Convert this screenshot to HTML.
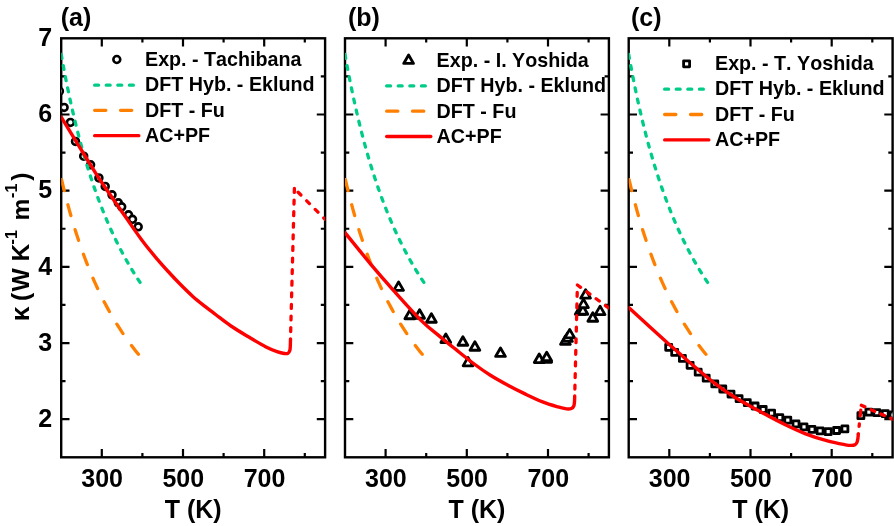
<!DOCTYPE html><html><head><meta charset="utf-8"><title>kappa</title>
<style>html,body{margin:0;padding:0;background:#fff}svg{display:block;will-change:transform}text{font-kerning:none}</style></head><body>
<svg width="894" height="526" viewBox="0 0 894 526">
<rect width="894" height="526" fill="#fff"/>
<defs>
<clipPath id="cp0"><rect x="61.20" y="38.30" width="263.90" height="419.00"/></clipPath>
<clipPath id="cp1"><rect x="345.00" y="38.30" width="263.90" height="419.00"/></clipPath>
<clipPath id="cp2"><rect x="628.70" y="38.30" width="263.90" height="419.00"/></clipPath>
</defs>
<rect x="61.20" y="38.30" width="263.90" height="419.00" fill="none" stroke="#000" stroke-width="2.4"/>
<path d="M101.80 38.30 v8.30 M101.80 457.30 v-8.30 M142.40 38.30 v4.30 M142.40 457.30 v-4.30 M183.00 38.30 v8.30 M183.00 457.30 v-8.30 M223.60 38.30 v4.30 M223.60 457.30 v-4.30 M264.20 38.30 v8.30 M264.20 457.30 v-8.30 M304.80 38.30 v4.30 M304.80 457.30 v-4.30 M61.20 419.21 h8.30 M325.10 419.21 h-8.30 M61.20 381.12 h4.30 M325.10 381.12 h-4.30 M61.20 343.03 h8.30 M325.10 343.03 h-8.30 M61.20 304.94 h4.30 M325.10 304.94 h-4.30 M61.20 266.85 h8.30 M325.10 266.85 h-8.30 M61.20 228.75 h4.30 M325.10 228.75 h-4.30 M61.20 190.66 h8.30 M325.10 190.66 h-8.30 M61.20 152.57 h4.30 M325.10 152.57 h-4.30 M61.20 114.48 h8.30 M325.10 114.48 h-8.30 M61.20 76.39 h4.30 M325.10 76.39 h-4.30" fill="none" stroke="#000" stroke-width="2.2"/>
<g clip-path="url(#cp0)">
<circle cx="59.40" cy="91.20" r="3.45" fill="#fff" stroke="#000" stroke-width="2.6"/>
<circle cx="64.10" cy="107.40" r="3.45" fill="#fff" stroke="#000" stroke-width="2.6"/>
<circle cx="70.40" cy="122.40" r="3.45" fill="#fff" stroke="#000" stroke-width="2.6"/>
<circle cx="75.50" cy="141.40" r="3.45" fill="#fff" stroke="#000" stroke-width="2.6"/>
<circle cx="83.70" cy="156.20" r="3.45" fill="#fff" stroke="#000" stroke-width="2.6"/>
<circle cx="90.60" cy="164.80" r="3.45" fill="#fff" stroke="#000" stroke-width="2.6"/>
<circle cx="98.90" cy="177.90" r="3.45" fill="#fff" stroke="#000" stroke-width="2.6"/>
<circle cx="105.20" cy="186.40" r="3.45" fill="#fff" stroke="#000" stroke-width="2.6"/>
<circle cx="112.00" cy="194.80" r="3.45" fill="#fff" stroke="#000" stroke-width="2.6"/>
<circle cx="118.30" cy="202.80" r="3.45" fill="#fff" stroke="#000" stroke-width="2.6"/>
<circle cx="121.70" cy="206.80" r="3.45" fill="#fff" stroke="#000" stroke-width="2.6"/>
<circle cx="128.50" cy="214.80" r="3.45" fill="#fff" stroke="#000" stroke-width="2.6"/>
<circle cx="132.50" cy="219.30" r="3.45" fill="#fff" stroke="#000" stroke-width="2.6"/>
<circle cx="138.20" cy="226.80" r="3.45" fill="#fff" stroke="#000" stroke-width="2.6"/>
<path d="M61.20 54.37 L63.17 65.25 L65.14 75.62 L67.11 85.53 L69.08 95.01 L71.06 104.08 L73.03 112.77 L75.00 121.10 L76.97 129.10 L78.94 136.78 L80.91 144.17 L82.88 151.28 L84.85 158.13 L86.82 164.73 L88.80 171.09 L90.77 177.23 L92.74 183.16 L94.71 188.89 L96.68 194.43 L98.65 199.79 L100.62 204.97 L102.59 210.00 L104.56 214.86 L106.54 219.58 L108.51 224.16 L110.48 228.60 L112.45 232.92 L114.42 237.11 L116.39 241.18 L118.36 245.14 L120.33 248.99 L122.31 252.74 L124.28 256.39 L126.25 259.94 L128.22 263.40 L130.19 266.77 L132.16 270.06 L134.13 273.27 L136.10 276.40 L138.07 279.45 L140.05 282.43" fill="none" stroke="#00cc88" stroke-width="3.3" stroke-linecap="round" stroke-dasharray="3.9 7.486"/>
<path d="M61.20 178.09 L63.13 186.23 L65.06 194.01 L66.99 201.46 L68.92 208.62 L70.85 215.48 L72.78 222.07 L74.71 228.41 L76.64 234.51 L78.57 240.38 L80.51 246.04 L82.44 251.50 L84.37 256.77 L86.30 261.86 L88.23 266.77 L90.16 271.52 L92.09 276.12 L94.02 280.57 L95.95 284.88 L97.88 289.06 L99.81 293.11 L101.74 297.04 L103.67 300.85 L105.60 304.55 L107.53 308.14 L109.46 311.64 L111.39 315.04 L113.32 318.34 L115.25 321.56 L117.19 324.68 L119.12 327.73 L121.05 330.70 L122.98 333.59 L124.91 336.41 L126.84 339.16 L128.77 341.85 L130.70 344.46 L132.63 347.02 L134.56 349.51 L136.49 351.95 L138.42 354.33" fill="none" stroke="#ff8000" stroke-width="3.3" stroke-dasharray="11.2 14.7" stroke-linecap="round" stroke-dashoffset="24.28"/>
<path d="M61.20 117.10 C65.58 124.25 81.02 149.52 87.50 160.00 C93.98 170.48 94.57 171.67 100.10 180.00 C105.63 188.33 113.76 200.00 120.70 210.00 C127.64 220.00 135.60 231.73 141.75 240.00 C147.90 248.27 152.89 254.02 157.60 259.60 C162.31 265.18 166.27 269.43 170.00 273.50 C173.73 277.57 176.20 280.18 180.00 284.00 C183.80 287.82 188.63 292.67 192.80 296.40 C196.97 300.13 201.20 303.38 205.00 306.40 C208.80 309.42 211.27 311.23 215.60 314.50 C219.93 317.77 225.53 322.28 231.00 326.00 C236.47 329.72 242.65 333.35 248.40 336.80 C254.15 340.25 260.73 344.23 265.50 346.70 C270.27 349.17 273.87 350.47 277.00 351.60 C280.13 352.73 282.47 353.23 284.30 353.50 C286.13 353.77 287.08 353.70 288.00 353.20 C288.92 352.70 289.42 351.70 289.80 350.50 C290.18 349.30 290.18 347.92 290.30 346.00 C290.42 344.08 290.47 340.17 290.50 339.00" fill="none" stroke="#ff0000" stroke-width="3.4" stroke-linecap="round" stroke-linejoin="round"/>
<path d="M290.50 339.00 L294.40 188.50" fill="none" stroke="#ff0000" stroke-width="3.3" stroke-dasharray="3.9 7.7" stroke-linecap="round" stroke-dashoffset="4.15"/>
<path d="M294.40 188.50 L325.10 219.30" fill="none" stroke="#ff0000" stroke-width="3.3" stroke-linecap="round" stroke-dasharray="3.9 8.2" stroke-dashoffset="6.8"/>
</g>
<text x="102.10" y="487.4" font-size="25" text-anchor="middle" font-family="Liberation Sans, sans-serif" font-weight="bold">300</text>
<text x="183.30" y="487.4" font-size="25" text-anchor="middle" font-family="Liberation Sans, sans-serif" font-weight="bold">500</text>
<text x="264.50" y="487.4" font-size="25" text-anchor="middle" font-family="Liberation Sans, sans-serif" font-weight="bold">700</text>
<text x="193.15" y="518.4" font-size="25" text-anchor="middle" font-family="Liberation Sans, sans-serif" font-weight="bold">T (K)</text>
<text x="60.70" y="26.1" font-size="25" font-family="Liberation Sans, sans-serif" font-weight="bold">(a)</text>
<circle cx="116.80" cy="59.50" r="3.45" fill="#fff" stroke="#000" stroke-width="2.6"/>
<path d="M94.65 85.20 h38.7" fill="none" stroke="#00cc88" stroke-width="3.3" stroke-dasharray="3.9 7.7" stroke-linecap="round"/>
<path d="M94.65 110.30 h37.1" fill="none" stroke="#ff8000" stroke-width="3.3" stroke-dasharray="11.2 14.7" stroke-linecap="round"/>
<path d="M94.65 135.70 h44.2" fill="none" stroke="#ff0000" stroke-width="3.3" stroke-linecap="round"/>
<text x="145.00" y="66.10" font-size="19.7" font-family="Liberation Sans, sans-serif" font-weight="bold">Exp. - Tachibana</text>
<text x="145.00" y="90.70" font-size="19.7" font-family="Liberation Sans, sans-serif" font-weight="bold">DFT Hyb. - Eklund</text>
<text x="145.00" y="116.70" font-size="19.7" font-family="Liberation Sans, sans-serif" font-weight="bold">DFT - Fu</text>
<text x="145.00" y="141.90" font-size="19.7" font-family="Liberation Sans, sans-serif" font-weight="bold">AC+PF</text>
<rect x="345.00" y="38.30" width="263.90" height="419.00" fill="none" stroke="#000" stroke-width="2.4"/>
<path d="M385.60 38.30 v8.30 M385.60 457.30 v-8.30 M426.20 38.30 v4.30 M426.20 457.30 v-4.30 M466.80 38.30 v8.30 M466.80 457.30 v-8.30 M507.40 38.30 v4.30 M507.40 457.30 v-4.30 M548.00 38.30 v8.30 M548.00 457.30 v-8.30 M588.60 38.30 v4.30 M588.60 457.30 v-4.30 M345.00 419.21 h8.30 M608.90 419.21 h-8.30 M345.00 381.12 h4.30 M608.90 381.12 h-4.30 M345.00 343.03 h8.30 M608.90 343.03 h-8.30 M345.00 304.94 h4.30 M608.90 304.94 h-4.30 M345.00 266.85 h8.30 M608.90 266.85 h-8.30 M345.00 228.75 h4.30 M608.90 228.75 h-4.30 M345.00 190.66 h8.30 M608.90 190.66 h-8.30 M345.00 152.57 h4.30 M608.90 152.57 h-4.30 M345.00 114.48 h8.30 M608.90 114.48 h-8.30 M345.00 76.39 h4.30 M608.90 76.39 h-4.30" fill="none" stroke="#000" stroke-width="2.2"/>
<g clip-path="url(#cp1)">
<path d="M398.60 281.85 L403.50 290.35 L393.70 290.35 Z" fill="#fff" stroke="#000" stroke-width="2.8" stroke-linejoin="round"/>
<path d="M409.80 310.25 L414.70 318.75 L404.90 318.75 Z" fill="#fff" stroke="#000" stroke-width="2.8" stroke-linejoin="round"/>
<path d="M419.60 309.75 L424.50 318.25 L414.70 318.25 Z" fill="#fff" stroke="#000" stroke-width="2.8" stroke-linejoin="round"/>
<path d="M431.40 313.75 L436.30 322.25 L426.50 322.25 Z" fill="#fff" stroke="#000" stroke-width="2.8" stroke-linejoin="round"/>
<path d="M445.80 334.05 L450.70 342.55 L440.90 342.55 Z" fill="#fff" stroke="#000" stroke-width="2.8" stroke-linejoin="round"/>
<path d="M462.90 336.75 L467.80 345.25 L458.00 345.25 Z" fill="#fff" stroke="#000" stroke-width="2.8" stroke-linejoin="round"/>
<path d="M474.90 341.75 L479.80 350.25 L470.00 350.25 Z" fill="#fff" stroke="#000" stroke-width="2.8" stroke-linejoin="round"/>
<path d="M468.00 357.35 L472.90 365.85 L463.10 365.85 Z" fill="#fff" stroke="#000" stroke-width="2.8" stroke-linejoin="round"/>
<path d="M500.50 347.95 L505.40 356.45 L495.60 356.45 Z" fill="#fff" stroke="#000" stroke-width="2.8" stroke-linejoin="round"/>
<path d="M539.20 354.05 L544.10 362.55 L534.30 362.55 Z" fill="#fff" stroke="#000" stroke-width="2.8" stroke-linejoin="round"/>
<path d="M546.70 353.75 L551.60 362.25 L541.80 362.25 Z" fill="#fff" stroke="#000" stroke-width="2.8" stroke-linejoin="round"/>
<path d="M546.70 352.25 L551.60 360.75 L541.80 360.75 Z" fill="#fff" stroke="#000" stroke-width="2.8" stroke-linejoin="round"/>
<path d="M565.40 335.85 L570.30 344.35 L560.50 344.35 Z" fill="#fff" stroke="#000" stroke-width="2.8" stroke-linejoin="round"/>
<path d="M567.50 332.95 L572.40 341.45 L562.60 341.45 Z" fill="#fff" stroke="#000" stroke-width="2.8" stroke-linejoin="round"/>
<path d="M569.70 329.35 L574.60 337.85 L564.80 337.85 Z" fill="#fff" stroke="#000" stroke-width="2.8" stroke-linejoin="round"/>
<path d="M580.10 305.85 L585.00 314.35 L575.20 314.35 Z" fill="#fff" stroke="#000" stroke-width="2.8" stroke-linejoin="round"/>
<path d="M582.90 305.75 L587.80 314.25 L578.00 314.25 Z" fill="#fff" stroke="#000" stroke-width="2.8" stroke-linejoin="round"/>
<path d="M583.50 299.15 L588.40 307.65 L578.60 307.65 Z" fill="#fff" stroke="#000" stroke-width="2.8" stroke-linejoin="round"/>
<path d="M585.60 289.65 L590.50 298.15 L580.70 298.15 Z" fill="#fff" stroke="#000" stroke-width="2.8" stroke-linejoin="round"/>
<path d="M592.80 312.75 L597.70 321.25 L587.90 321.25 Z" fill="#fff" stroke="#000" stroke-width="2.8" stroke-linejoin="round"/>
<path d="M600.10 306.15 L605.00 314.65 L595.20 314.65 Z" fill="#fff" stroke="#000" stroke-width="2.8" stroke-linejoin="round"/>
<path d="M345.00 54.37 L346.97 65.25 L348.94 75.62 L350.91 85.53 L352.88 95.01 L354.86 104.08 L356.83 112.77 L358.80 121.10 L360.77 129.10 L362.74 136.78 L364.71 144.17 L366.68 151.28 L368.65 158.13 L370.62 164.73 L372.60 171.09 L374.57 177.23 L376.54 183.16 L378.51 188.89 L380.48 194.43 L382.45 199.79 L384.42 204.97 L386.39 210.00 L388.36 214.86 L390.34 219.58 L392.31 224.16 L394.28 228.60 L396.25 232.92 L398.22 237.11 L400.19 241.18 L402.16 245.14 L404.13 248.99 L406.11 252.74 L408.08 256.39 L410.05 259.94 L412.02 263.40 L413.99 266.77 L415.96 270.06 L417.93 273.27 L419.90 276.40 L421.87 279.45 L423.85 282.43" fill="none" stroke="#00cc88" stroke-width="3.3" stroke-linecap="round" stroke-dasharray="3.9 7.486"/>
<path d="M345.00 178.09 L346.93 186.23 L348.86 194.01 L350.79 201.46 L352.72 208.62 L354.65 215.48 L356.58 222.07 L358.51 228.41 L360.44 234.51 L362.37 240.38 L364.31 246.04 L366.24 251.50 L368.17 256.77 L370.10 261.86 L372.03 266.77 L373.96 271.52 L375.89 276.12 L377.82 280.57 L379.75 284.88 L381.68 289.06 L383.61 293.11 L385.54 297.04 L387.47 300.85 L389.40 304.55 L391.33 308.14 L393.26 311.64 L395.19 315.04 L397.12 318.34 L399.05 321.56 L400.99 324.68 L402.92 327.73 L404.85 330.70 L406.78 333.59 L408.71 336.41 L410.64 339.16 L412.57 341.85 L414.50 344.46 L416.43 347.02 L418.36 349.51 L420.29 351.95 L422.22 354.33" fill="none" stroke="#ff8000" stroke-width="3.3" stroke-dasharray="11.2 14.7" stroke-linecap="round" stroke-dashoffset="24.28"/>
<path d="M345.00 232.70 C349.17 237.80 362.00 253.78 370.00 263.30 C378.00 272.82 384.45 280.25 393.00 289.80 C401.55 299.35 413.47 312.80 421.30 320.60 C429.13 328.40 434.30 331.83 440.00 336.60 C445.70 341.37 449.80 344.63 455.50 349.20 C461.20 353.77 468.45 359.70 474.20 364.00 C479.95 368.30 484.30 371.42 490.00 375.00 C495.70 378.58 502.57 382.35 508.40 385.50 C514.23 388.65 519.30 391.17 525.00 393.90 C530.70 396.63 537.10 399.73 542.60 401.90 C548.10 404.07 554.00 405.73 558.00 406.90 C562.00 408.07 564.37 408.63 566.60 408.90 C568.83 409.17 570.20 408.98 571.40 408.50 C572.60 408.02 573.28 407.17 573.80 406.00 C574.32 404.83 574.35 403.17 574.50 401.50 C574.65 399.83 574.67 396.92 574.70 396.00" fill="none" stroke="#ff0000" stroke-width="3.4" stroke-linecap="round" stroke-linejoin="round"/>
<path d="M574.70 396.00 L577.40 285.00" fill="none" stroke="#ff0000" stroke-width="3.3" stroke-dasharray="3.9 7.7" stroke-linecap="round" stroke-dashoffset="4.67"/>
<path d="M577.40 285.00 L608.80 308.00" fill="none" stroke="#ff0000" stroke-width="3.3" stroke-linecap="round" stroke-dasharray="3.9 7.7" stroke-dashoffset="0"/>
</g>
<text x="385.90" y="487.4" font-size="25" text-anchor="middle" font-family="Liberation Sans, sans-serif" font-weight="bold">300</text>
<text x="467.10" y="487.4" font-size="25" text-anchor="middle" font-family="Liberation Sans, sans-serif" font-weight="bold">500</text>
<text x="548.30" y="487.4" font-size="25" text-anchor="middle" font-family="Liberation Sans, sans-serif" font-weight="bold">700</text>
<text x="476.95" y="518.4" font-size="25" text-anchor="middle" font-family="Liberation Sans, sans-serif" font-weight="bold">T (K)</text>
<text x="347.90" y="26.1" font-size="25" font-family="Liberation Sans, sans-serif" font-weight="bold">(b)</text>
<path d="M408.60 54.95 L413.50 63.45 L403.70 63.45 Z" fill="#fff" stroke="#000" stroke-width="2.8" stroke-linejoin="round"/>
<path d="M386.65 85.90 h38.7" fill="none" stroke="#00cc88" stroke-width="3.3" stroke-dasharray="3.9 7.7" stroke-linecap="round"/>
<path d="M386.65 111.20 h37.1" fill="none" stroke="#ff8000" stroke-width="3.3" stroke-dasharray="11.2 14.7" stroke-linecap="round"/>
<path d="M386.65 136.50 h44.2" fill="none" stroke="#ff0000" stroke-width="3.3" stroke-linecap="round"/>
<text x="436.60" y="67.10" font-size="19.7" font-family="Liberation Sans, sans-serif" font-weight="bold">Exp. - I. Yoshida</text>
<text x="436.60" y="91.80" font-size="19.7" font-family="Liberation Sans, sans-serif" font-weight="bold">DFT Hyb. - Eklund</text>
<text x="436.60" y="117.60" font-size="19.7" font-family="Liberation Sans, sans-serif" font-weight="bold">DFT - Fu</text>
<text x="436.60" y="142.80" font-size="19.7" font-family="Liberation Sans, sans-serif" font-weight="bold">AC+PF</text>
<rect x="628.70" y="38.30" width="263.90" height="419.00" fill="none" stroke="#000" stroke-width="2.4"/>
<path d="M669.30 38.30 v8.30 M669.30 457.30 v-8.30 M709.90 38.30 v4.30 M709.90 457.30 v-4.30 M750.50 38.30 v8.30 M750.50 457.30 v-8.30 M791.10 38.30 v4.30 M791.10 457.30 v-4.30 M831.70 38.30 v8.30 M831.70 457.30 v-8.30 M872.30 38.30 v4.30 M872.30 457.30 v-4.30 M628.70 419.21 h8.30 M892.60 419.21 h-8.30 M628.70 381.12 h4.30 M892.60 381.12 h-4.30 M628.70 343.03 h8.30 M892.60 343.03 h-8.30 M628.70 304.94 h4.30 M892.60 304.94 h-4.30 M628.70 266.85 h8.30 M892.60 266.85 h-8.30 M628.70 228.75 h4.30 M892.60 228.75 h-4.30 M628.70 190.66 h8.30 M892.60 190.66 h-8.30 M628.70 152.57 h4.30 M892.60 152.57 h-4.30 M628.70 114.48 h8.30 M892.60 114.48 h-8.30 M628.70 76.39 h4.30 M892.60 76.39 h-4.30" fill="none" stroke="#000" stroke-width="2.2"/>
<g clip-path="url(#cp2)">
<rect x="665.70" y="344.30" width="6.00" height="6.00" fill="#fff" stroke="#000" stroke-width="2.8" stroke-linejoin="round"/>
<rect x="671.70" y="349.40" width="6.00" height="6.00" fill="#fff" stroke="#000" stroke-width="2.8" stroke-linejoin="round"/>
<rect x="679.40" y="355.40" width="6.00" height="6.00" fill="#fff" stroke="#000" stroke-width="2.8" stroke-linejoin="round"/>
<rect x="687.10" y="362.30" width="6.00" height="6.00" fill="#fff" stroke="#000" stroke-width="2.8" stroke-linejoin="round"/>
<rect x="695.20" y="369.20" width="6.00" height="6.00" fill="#fff" stroke="#000" stroke-width="2.8" stroke-linejoin="round"/>
<rect x="703.20" y="375.20" width="6.00" height="6.00" fill="#fff" stroke="#000" stroke-width="2.8" stroke-linejoin="round"/>
<rect x="711.80" y="380.90" width="6.00" height="6.00" fill="#fff" stroke="#000" stroke-width="2.8" stroke-linejoin="round"/>
<rect x="719.80" y="386.00" width="6.00" height="6.00" fill="#fff" stroke="#000" stroke-width="2.8" stroke-linejoin="round"/>
<rect x="728.00" y="391.10" width="6.00" height="6.00" fill="#fff" stroke="#000" stroke-width="2.8" stroke-linejoin="round"/>
<rect x="736.10" y="395.70" width="6.00" height="6.00" fill="#fff" stroke="#000" stroke-width="2.8" stroke-linejoin="round"/>
<rect x="744.30" y="399.70" width="6.00" height="6.00" fill="#fff" stroke="#000" stroke-width="2.8" stroke-linejoin="round"/>
<rect x="752.10" y="403.00" width="6.00" height="6.00" fill="#fff" stroke="#000" stroke-width="2.8" stroke-linejoin="round"/>
<rect x="760.20" y="406.50" width="6.00" height="6.00" fill="#fff" stroke="#000" stroke-width="2.8" stroke-linejoin="round"/>
<rect x="768.60" y="410.10" width="6.00" height="6.00" fill="#fff" stroke="#000" stroke-width="2.8" stroke-linejoin="round"/>
<rect x="776.80" y="414.60" width="6.00" height="6.00" fill="#fff" stroke="#000" stroke-width="2.8" stroke-linejoin="round"/>
<rect x="784.80" y="417.10" width="6.00" height="6.00" fill="#fff" stroke="#000" stroke-width="2.8" stroke-linejoin="round"/>
<rect x="793.00" y="420.90" width="6.00" height="6.00" fill="#fff" stroke="#000" stroke-width="2.8" stroke-linejoin="round"/>
<rect x="801.00" y="423.80" width="6.00" height="6.00" fill="#fff" stroke="#000" stroke-width="2.8" stroke-linejoin="round"/>
<rect x="809.00" y="426.40" width="6.00" height="6.00" fill="#fff" stroke="#000" stroke-width="2.8" stroke-linejoin="round"/>
<rect x="817.10" y="427.90" width="6.00" height="6.00" fill="#fff" stroke="#000" stroke-width="2.8" stroke-linejoin="round"/>
<rect x="825.20" y="428.70" width="6.00" height="6.00" fill="#fff" stroke="#000" stroke-width="2.8" stroke-linejoin="round"/>
<rect x="833.60" y="427.50" width="6.00" height="6.00" fill="#fff" stroke="#000" stroke-width="2.8" stroke-linejoin="round"/>
<rect x="841.90" y="425.90" width="6.00" height="6.00" fill="#fff" stroke="#000" stroke-width="2.8" stroke-linejoin="round"/>
<rect x="857.90" y="412.70" width="6.00" height="6.00" fill="#fff" stroke="#000" stroke-width="2.8" stroke-linejoin="round"/>
<rect x="865.90" y="409.20" width="6.00" height="6.00" fill="#fff" stroke="#000" stroke-width="2.8" stroke-linejoin="round"/>
<rect x="873.80" y="409.70" width="6.00" height="6.00" fill="#fff" stroke="#000" stroke-width="2.8" stroke-linejoin="round"/>
<rect x="882.20" y="410.70" width="6.00" height="6.00" fill="#fff" stroke="#000" stroke-width="2.8" stroke-linejoin="round"/>
<rect x="890.00" y="412.00" width="6.00" height="6.00" fill="#fff" stroke="#000" stroke-width="2.8" stroke-linejoin="round"/>
<path d="M628.70 54.37 L630.67 65.25 L632.64 75.62 L634.61 85.53 L636.58 95.01 L638.56 104.08 L640.53 112.77 L642.50 121.10 L644.47 129.10 L646.44 136.78 L648.41 144.17 L650.38 151.28 L652.35 158.13 L654.32 164.73 L656.30 171.09 L658.27 177.23 L660.24 183.16 L662.21 188.89 L664.18 194.43 L666.15 199.79 L668.12 204.97 L670.09 210.00 L672.06 214.86 L674.04 219.58 L676.01 224.16 L677.98 228.60 L679.95 232.92 L681.92 237.11 L683.89 241.18 L685.86 245.14 L687.83 248.99 L689.81 252.74 L691.78 256.39 L693.75 259.94 L695.72 263.40 L697.69 266.77 L699.66 270.06 L701.63 273.27 L703.60 276.40 L705.57 279.45 L707.55 282.43" fill="none" stroke="#00cc88" stroke-width="3.3" stroke-linecap="round" stroke-dasharray="3.9 7.486"/>
<path d="M628.70 178.09 L630.63 186.23 L632.56 194.01 L634.49 201.46 L636.42 208.62 L638.35 215.48 L640.28 222.07 L642.21 228.41 L644.14 234.51 L646.07 240.38 L648.01 246.04 L649.94 251.50 L651.87 256.77 L653.80 261.86 L655.73 266.77 L657.66 271.52 L659.59 276.12 L661.52 280.57 L663.45 284.88 L665.38 289.06 L667.31 293.11 L669.24 297.04 L671.17 300.85 L673.10 304.55 L675.03 308.14 L676.96 311.64 L678.89 315.04 L680.82 318.34 L682.75 321.56 L684.69 324.68 L686.62 327.73 L688.55 330.70 L690.48 333.59 L692.41 336.41 L694.34 339.16 L696.27 341.85 L698.20 344.46 L700.13 347.02 L702.06 349.51 L703.99 351.95 L705.92 354.33" fill="none" stroke="#ff8000" stroke-width="3.3" stroke-dasharray="11.2 14.7" stroke-linecap="round" stroke-dashoffset="24.28"/>
<path d="M628.70 307.50 C632.33 310.83 644.02 321.60 650.50 327.50 C656.98 333.40 662.47 338.32 667.60 342.90 C672.73 347.48 677.57 351.70 681.30 355.00 C685.03 358.30 684.75 358.23 690.00 362.70 C695.25 367.17 705.20 375.95 712.80 381.80 C720.40 387.65 728.00 393.00 735.60 397.80 C743.20 402.60 750.53 406.32 758.40 410.60 C766.27 414.88 774.93 419.63 782.80 423.50 C790.67 427.37 798.00 430.85 805.60 433.80 C813.20 436.75 821.75 439.37 828.40 441.20 C835.05 443.03 841.70 444.10 845.50 444.80 C849.30 445.50 849.62 445.42 851.20 445.40 C852.78 445.38 854.03 445.20 855.00 444.70 C855.97 444.20 856.52 443.43 857.00 442.40 C857.48 441.37 857.68 439.90 857.90 438.50 C858.12 437.10 858.23 434.75 858.30 434.00" fill="none" stroke="#ff0000" stroke-width="3.4" stroke-linecap="round" stroke-linejoin="round"/>
<path d="M858.30 434.00 L861.30 405.30" fill="none" stroke="#ff0000" stroke-width="3.3" stroke-linecap="round" stroke-dasharray="0 7.65 2.4 8.1 5.8 100"/>
<path d="M861.30 405.30 L892.60 419.20" fill="none" stroke="#ff0000" stroke-width="3.3" stroke-linecap="round" stroke-dasharray="3.9 6.8" stroke-dashoffset="0"/>
</g>
<text x="669.60" y="487.4" font-size="25" text-anchor="middle" font-family="Liberation Sans, sans-serif" font-weight="bold">300</text>
<text x="750.80" y="487.4" font-size="25" text-anchor="middle" font-family="Liberation Sans, sans-serif" font-weight="bold">500</text>
<text x="832.00" y="487.4" font-size="25" text-anchor="middle" font-family="Liberation Sans, sans-serif" font-weight="bold">700</text>
<text x="760.65" y="518.4" font-size="25" text-anchor="middle" font-family="Liberation Sans, sans-serif" font-weight="bold">T (K)</text>
<text x="631.00" y="26.1" font-size="25" font-family="Liberation Sans, sans-serif" font-weight="bold">(c)</text>
<rect x="683.60" y="60.80" width="6.00" height="6.00" fill="#fff" stroke="#000" stroke-width="2.8" stroke-linejoin="round"/>
<path d="M664.65 89.20 h38.7" fill="none" stroke="#00cc88" stroke-width="3.3" stroke-dasharray="3.9 7.7" stroke-linecap="round"/>
<path d="M664.65 114.50 h37.1" fill="none" stroke="#ff8000" stroke-width="3.3" stroke-dasharray="11.2 14.7" stroke-linecap="round"/>
<path d="M664.65 139.90 h44.2" fill="none" stroke="#ff0000" stroke-width="3.3" stroke-linecap="round"/>
<text x="715.00" y="70.10" font-size="19.7" font-family="Liberation Sans, sans-serif" font-weight="bold">Exp. - T. Yoshida</text>
<text x="715.00" y="94.70" font-size="19.7" font-family="Liberation Sans, sans-serif" font-weight="bold">DFT Hyb. - Eklund</text>
<text x="715.00" y="120.70" font-size="19.7" font-family="Liberation Sans, sans-serif" font-weight="bold">DFT - Fu</text>
<text x="715.00" y="145.90" font-size="19.7" font-family="Liberation Sans, sans-serif" font-weight="bold">AC+PF</text>
<text x="52.1" y="426.91" font-size="25" text-anchor="end" font-family="Liberation Sans, sans-serif" font-weight="bold">2</text>
<text x="52.1" y="350.73" font-size="25" text-anchor="end" font-family="Liberation Sans, sans-serif" font-weight="bold">3</text>
<text x="52.1" y="274.55" font-size="25" text-anchor="end" font-family="Liberation Sans, sans-serif" font-weight="bold">4</text>
<text x="52.1" y="198.36" font-size="25" text-anchor="end" font-family="Liberation Sans, sans-serif" font-weight="bold">5</text>
<text x="52.1" y="122.18" font-size="25" text-anchor="end" font-family="Liberation Sans, sans-serif" font-weight="bold">6</text>
<text x="52.1" y="46.00" font-size="25" text-anchor="end" font-family="Liberation Sans, sans-serif" font-weight="bold">7</text>
<text transform="translate(29.30 321.50) rotate(-90)" font-size="25.00" font-family="Liberation Sans, sans-serif" font-weight="bold" textLength="15.00" lengthAdjust="spacingAndGlyphs">κ</text>
<text transform="translate(29.30 300.90) rotate(-90)" font-size="24.60" font-family="Liberation Sans, sans-serif" font-weight="bold" >(</text>
<text transform="translate(29.30 291.61) rotate(-90)" font-size="24.60" font-family="Liberation Sans, sans-serif" font-weight="bold" >W K</text>
<text transform="translate(17.00 244.40) rotate(-90)" font-size="16.00" font-family="Liberation Sans, sans-serif" font-weight="bold" >-1</text>
<text transform="translate(29.30 220.50) rotate(-90)" font-size="24.60" font-family="Liberation Sans, sans-serif" font-weight="bold" >m</text>
<text transform="translate(17.00 197.90) rotate(-90)" font-size="16.00" font-family="Liberation Sans, sans-serif" font-weight="bold" >-1</text>
<text transform="translate(29.30 180.80) rotate(-90)" font-size="24.60" font-family="Liberation Sans, sans-serif" font-weight="bold" >)</text>
</svg></body></html>
